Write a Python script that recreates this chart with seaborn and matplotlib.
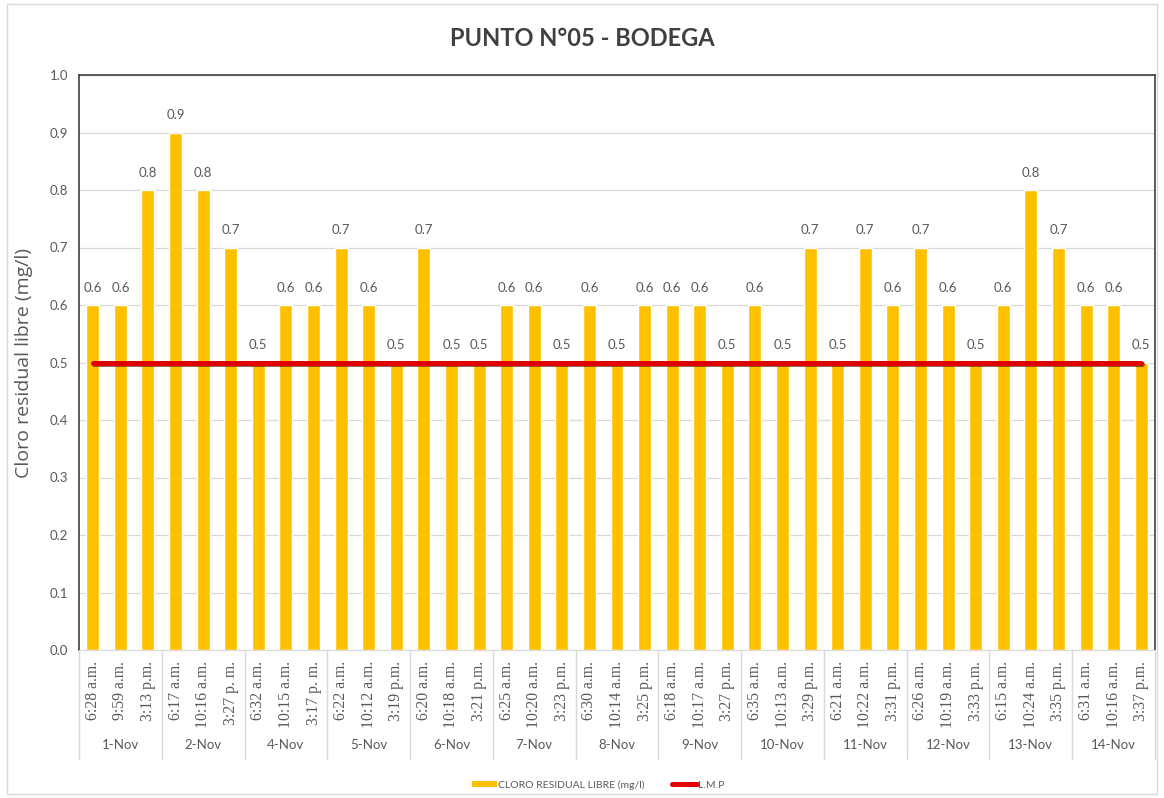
import pandas as pd
import matplotlib.pyplot as plt
import matplotlib.patheffects as pe
import matplotlib.transforms as mtransforms
from matplotlib.patches import Rectangle, Patch
from matplotlib.lines import Line2D
import seaborn as sns

sns.set_style("white")
plt.rcParams['font.family'] = ['Lato', 'DejaVu Sans']

# datos
fechas = ["1-Nov", "2-Nov", "4-Nov", "5-Nov", "6-Nov", "7-Nov", "8-Nov",
          "9-Nov", "10-Nov", "11-Nov", "12-Nov", "13-Nov", "14-Nov"]
horas = [
    "6:28 a.m.", "9:59 a.m.", "3:13 p.m.",
    "6:17 a.m.", "10:16 a.m.", "3:27 p. m.",
    "6:32 a.m.", "10:15 a.m.", "3:17 p. m.",
    "6:22 a.m.", "10:12 a.m.", "3:19 p.m.",
    "6:20 a.m.", "10:18 a.m.", "3:21 p.m.",
    "6:25 a.m.", "10:20 a.m.", "3:23 p.m.",
    "6:30 a.m.", "10:14 a.m.", "3:25 p.m.",
    "6:18 a.m.", "10:17 a.m.", "3:27 p.m.",
    "6:35 a.m.", "10:13 a.m.", "3:29 p.m.",
    "6:21 a.m.", "10:22 a.m.", "3:31 p.m.",
    "6:26 a.m.", "10:19 a.m.", "3:33 p.m.",
    "6:15 a.m.", "10:24 a.m.", "3:35 p.m.",
    "6:31 a.m.", "10:16 a.m.", "3:37 p.m.",
]
cloro = [0.6, 0.6, 0.8,
         0.9, 0.8, 0.7,
         0.5, 0.6, 0.6,
         0.7, 0.6, 0.5,
         0.7, 0.5, 0.5,
         0.6, 0.6, 0.5,
         0.6, 0.5, 0.6,
         0.6, 0.6, 0.5,
         0.6, 0.5, 0.7,
         0.5, 0.7, 0.6,
         0.7, 0.6, 0.5,
         0.6, 0.8, 0.7,
         0.6, 0.6, 0.5]
lmp = [0.5] * len(cloro)

df = pd.DataFrame({"n": range(len(cloro)), "hora": horas,
                   "cloro": cloro, "lmp": lmp})

gris = "#595959"
amarillo = "#FFC000"
rojo = "#E00000"

fig = plt.figure(figsize=(11.64, 7.98), dpi=100)
ax = fig.add_axes([79 / 1164, 1 - 650 / 798, (1155 - 79) / 1164, (650 - 75) / 798])

sns.barplot(data=df, x="n", y="cloro", color=amarillo, width=0.47,
            saturation=1, ax=ax, zorder=2)
sns.lineplot(data=df, x="n", y="lmp", color=rojo, linewidth=3.6, ax=ax, zorder=3,
             path_effects=[pe.SimpleLineShadow(offset=(0.8, -1), shadow_color="#5a0000", alpha=0.6),
                           pe.Normal()])

for c in ax.containers:
    ax.bar_label(c, fmt="%.1f", padding=8, fontsize=9.5, color=gris)

ax.set_xlim(-0.5, len(cloro) - 0.5)
ax.set_ylim(0, 1.0)
ax.set_yticks([i / 10 for i in range(11)])
ax.set_yticklabels([f"{i / 10:.1f}" for i in range(11)], fontsize=9.5, color=gris)
ax.yaxis.grid(True, color="#d9d9d9", linewidth=0.9, zorder=0)
ax.set_axisbelow(True)

ax.set_xticks(range(len(horas)))
ax.set_xticklabels(horas, rotation=90, fontsize=11.3, color=gris,
                   family="Liberation Serif", va="top")
ax.tick_params(axis="x", length=0, pad=8)
ax.tick_params(axis="y", length=0, pad=8)
ax.set_xlabel("")
ax.set_ylabel("Cloro residual libre (mg/l)", fontsize=14, color=gris,
              labelpad=12, family="Open Sans")

for s in ["left", "top", "right"]:
    ax.spines[s].set_color("#404040")
    ax.spines[s].set_linewidth(1.2)
ax.spines["bottom"].set_color("#d9d9d9")

# eje de fechas (segundo nivel)
trans = mtransforms.blended_transform_factory(ax.transData, ax.transAxes)
for i in range(len(fechas) + 1):
    ax.plot([i * 3 - 0.5, i * 3 - 0.5], [0, -0.19], transform=trans,
            color="#d9d9d9", linewidth=1, clip_on=False)
for i, f in enumerate(fechas):
    ax.text(i * 3 + 1, -0.165, f, transform=trans, ha="center", va="center",
            fontsize=9.5, color=gris)

fig.text(0.5, 1 - 38 / 798, "PUNTO N°05 - BODEGA", ha="center", va="center",
         fontsize=17, fontweight="bold", color="#404040")

handles = [Patch(facecolor=amarillo, edgecolor="none"),
           Line2D([0], [0], color=rojo, linewidth=3.6)]
fig.legend(handles, ["CLORO RESIDUAL LIBRE (mg/l)", "L.M.P"], loc="center",
           bbox_to_anchor=(598 / 1164, 1 - 785 / 798), ncol=2, frameon=False,
           fontsize=7.5, labelcolor=gris, handlelength=2.4, handleheight=0.6,
           columnspacing=2.6, handletextpad=0.1)

fig.patches.append(Rectangle((7 / 1164, 1 - 794 / 798), 1150 / 1164, 790 / 798,
                             transform=fig.transFigure, fill=False,
                             edgecolor="#d9d9d9", linewidth=1))

plt.savefig("out.png", dpi=100)
